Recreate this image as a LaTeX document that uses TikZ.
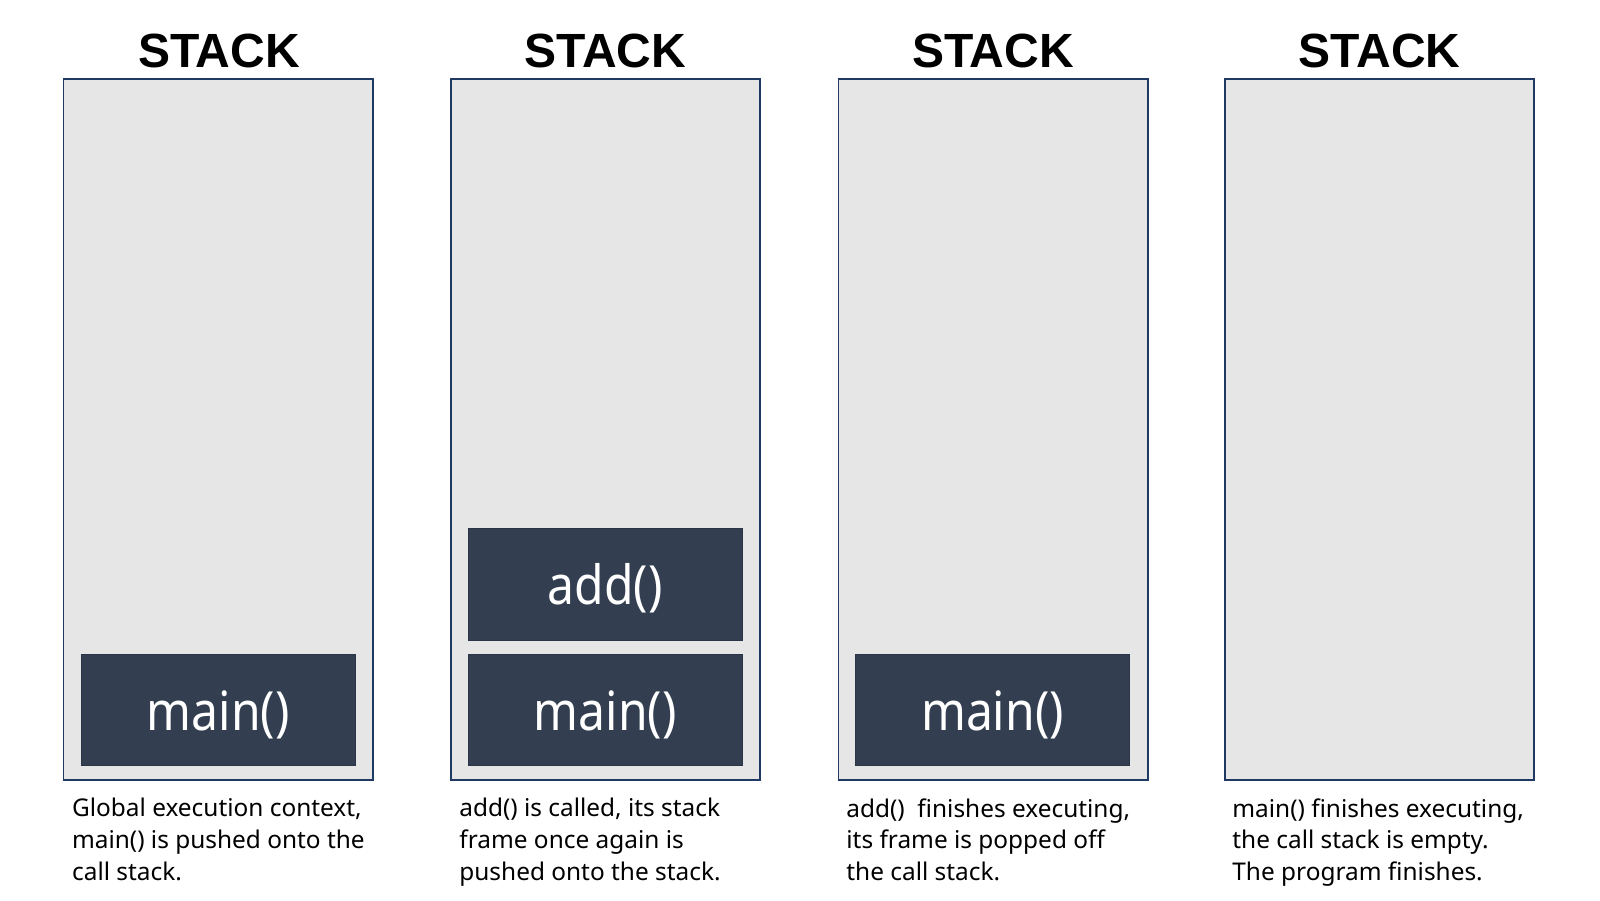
\documentclass[tikz,border=0pt]{standalone}
\usepackage{fontspec}
\setmainfont{Noto Sans}
\newfontfamily\headfont{Liberation Sans}
\newfontfamily\framefont[FakeStretch=0.89]{Noto Sans}
\definecolor{stackfill}{HTML}{E6E6E6}
\definecolor{stackline}{HTML}{203864}
\definecolor{framefill}{HTML}{333F50}
\definecolor{frameline}{HTML}{2A3547}
\begin{document}
\begin{tikzpicture}[x=0.5pt,y=-0.5pt,
  stackbox/.style={draw=stackline,fill=stackfill,line width=0.8pt,minimum width=154.7pt,minimum height=350.5pt,inner sep=0pt},
  framebox/.style={draw=frameline,fill=framefill,line width=0.5pt,minimum width=137pt,minimum height=55.75pt,inner sep=0pt},
  frametext/.style={anchor=base,text=white,inner sep=0pt,font=\framefont\fontsize{27}{30}\selectfont},
  headtext/.style={anchor=base,inner sep=0pt,font=\headfont\bfseries\fontsize{24}{27}\selectfont},
  captext/.style={anchor=north west,inner sep=0pt,align=left,font=\fontsize{12.2}{15.85}\selectfont}]
\useasboundingbox[fill=white] (0,0) rectangle (1600,900);
% stacks
\node[stackbox] (s1) at (218,429.5) {};
\node[stackbox] (s2) at (605.4,429.5) {};
\node[stackbox] (s3) at (993,429.5) {};
\node[stackbox] (s4) at (1379.5,429.5) {};
% headings
\node[headtext] (h1) at (219,67) {STACK};
\node[headtext] (h2) at (605.4,67) {STACK};
\node[headtext] (h3) at (993,67) {STACK};
\node[headtext] (h4) at (1379.5,67) {STACK};
% frames
\node[framebox] (m1) at (218.3,710) {};
\node[frametext] (m1t) at (218.3,730) {main()};
\node[framebox] (a2) at (605.3,584.6) {};
\node[frametext] (a2t) at (605.3,604.6) {add()};
\node[framebox] (m2) at (605.3,710) {};
\node[frametext] (m2t) at (605.3,730) {main()};
\node[framebox] (m3) at (992.5,710) {};
\node[frametext] (m3t) at (992.5,730) {main()};
% captions
\node[captext] (c1) at (71.7,798) {Global execution context,\\main() is pushed onto the\\call stack.};
\node[captext] (c2) at (459,798) {add() is called, its stack\\frame once again is\\pushed onto the stack.};
\node[captext] (c3) at (846,798) {add()\ \ finishes executing,\\its frame is popped off\\the call stack.};
\node[captext] (c4) at (1232,798) {main() finishes executing,\\the call stack is empty.\\The program finishes.};
\end{tikzpicture}
\end{document}
